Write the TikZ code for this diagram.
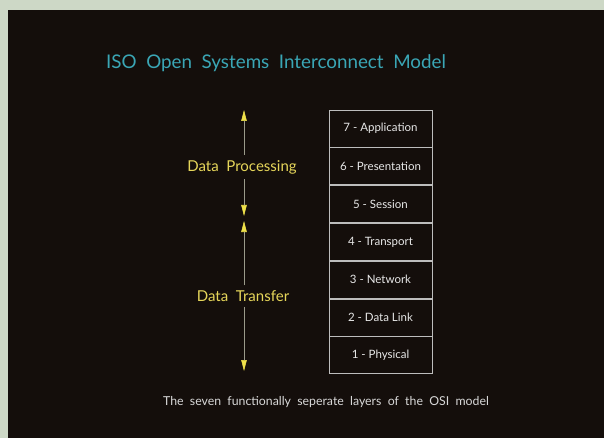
\documentclass[tikz,border=0pt]{standalone}
\usepackage{fontspec}
\setmainfont{Lato}
\usetikzlibrary{arrows.meta,positioning}
\definecolor{bordercol}{HTML}{CDD8C6}
\definecolor{bgcol}{HTML}{140E0B}
\definecolor{titlecol}{HTML}{3AA6B5}
\definecolor{yelcol}{HTML}{E6D65A}
\definecolor{tipcol}{HTML}{EEE04A}
\definecolor{linecol}{HTML}{9A9A8A}
\definecolor{cellcol}{HTML}{BDBDBD}
\definecolor{celltext}{HTML}{E8E8E8}
\definecolor{captext}{HTML}{D8D8D8}
\begin{document}
\begin{tikzpicture}[x=1pt,y=-1pt,
  layer/.style={draw=cellcol, line width=0.8pt, minimum width=103pt, minimum height=37pt,
    inner sep=0pt, text=celltext, font=\fontsize{11.5}{13}\selectfont},
  sidelabel/.style={text=yelcol, font=\fontsize{15}{17}\selectfont, inner sep=5pt},
  arr/.style={draw=linecol, line width=0.6pt, -{Triangle[width=5.5pt,length=11pt,color=tipcol]}}
]
\useasboundingbox (0,0) rectangle (604,438);
\fill[bordercol] (0,0) rectangle (604,438);
\fill[bgcol] (8,10) rectangle (604,438);

\node[text=titlecol, font=\fontsize{18.8}{22}\selectfont] (title) at (276,63) {ISO\ \ Open\ \ Systems\ \ Interconnect\ \ Model};

\node[layer] (l7) at (380.5,128.5) {7 - Application};
\node[layer, below=0pt of l7] (l6) {6 - Presentation};
\node[layer, below=0pt of l6] (l5) {5 - Session};
\node[layer, below=0pt of l5] (l4) {4 - Transport};
\node[layer, below=0pt of l4] (l3) {3 - Network};
\node[layer, below=0pt of l3] (l2) {2 - Data Link};
\node[layer, below=0pt of l2] (l1) {1 - Physical};

\node[sidelabel] (dp) at (242,167) {Data\ \ Processing};
\node[sidelabel] (dt) at (243,296) {Data\ \ Transfer};

\coordinate (dpTop) at (244,110);
\coordinate (dpBot) at (244,216);
\coordinate (dtTop) at (244,221);
\coordinate (dtBot) at (244,371);

\draw[arr] (dp.north -| dpTop) -- (dpTop);
\draw[arr] (dp.south -| dpBot) -- (dpBot);
\draw[arr] (dt.north -| dtTop) -- (dtTop);
\draw[arr] (dt.south -| dtBot) -- (dtBot);

\node[text=captext, font=\fontsize{12.3}{14}\selectfont] (cap) at (326,402) {The\ \ seven\ \ functionally\ \ seperate\ \ layers\ \ of\ \ the\ \ OSI\ \ model};
\end{tikzpicture}
\end{document}
